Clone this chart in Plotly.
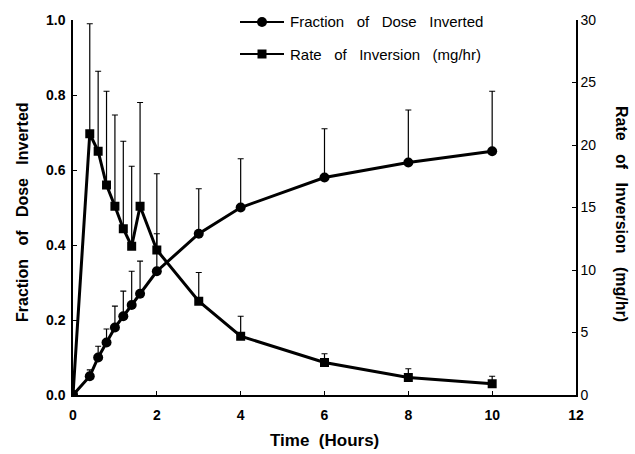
import plotly.graph_objects as go

time_h = [0, 0.4, 0.6, 0.8, 1.0, 1.2, 1.4, 1.6, 2, 3, 4, 6, 8, 10]
fraction_inverted = [0, 0.05, 0.10, 0.14, 0.18, 0.21, 0.24, 0.27, 0.33, 0.43, 0.50, 0.58, 0.62, 0.65]
fraction_err = [0, 0.017, 0.03, 0.036, 0.057, 0.067, 0.09, 0.087, 0.10, 0.12, 0.13, 0.13, 0.14, 0.16]
rate_inversion = [0, 20.9, 19.5, 16.8, 15.1, 13.3, 11.9, 15.1, 11.6, 7.5, 4.7, 2.6, 1.4, 0.9]
rate_err = [0, 8.8, 6.4, 7.5, 7.3, 7.0, 6.4, 8.3, 6.1, 2.3, 1.6, 0.7, 0.7, 0.6]

x_ticks = [0, 2, 4, 6, 8, 10, 12]
y_ticks = [0.0, 0.2, 0.4, 0.6, 0.8, 1.0]
y2_ticks = [0, 5, 10, 15, 20, 25, 30]

series_names = ["Fraction of Dose Inverted", "Rate of Inversion (mg/hr)"]
x_title = "Time (Hours)"

FONT = "Liberation Sans"
SP = "\u00a0"


def spaced(s, n):
    return (SP * n).join(s.split(" "))


fig = go.Figure()
fig.add_trace(go.Scatter(
    x=time_h, y=fraction_inverted, mode="lines+markers",
    name=series_names[0], showlegend=False,
    line=dict(color="black", width=3),
    marker=dict(symbol="circle", size=10, color="black"),
    error_y=dict(type="data", symmetric=False, array=fraction_err,
                 arrayminus=[0] * len(fraction_err), color="black",
                 thickness=1.2, width=3),
))
fig.add_trace(go.Scatter(
    x=time_h, y=rate_inversion, mode="lines+markers", yaxis="y2",
    name=series_names[1], showlegend=False,
    line=dict(color="black", width=3),
    marker=dict(symbol="square", size=9, color="black"),
    error_y=dict(type="data", symmetric=False, array=rate_err,
                 arrayminus=[0] * len(rate_err), color="black",
                 thickness=1.2, width=3),
))

# plot area geometry (pixels)
L, R, T, B = 73, 59, 20, 59
W, H = 635, 454
PW, PH = W - L - R, H - T - B


def px(xp):
    return (xp - L) / PW


def py(yp):
    return (H - B - yp) / PH


shapes = []
annotations = []
legend_rows = [(22, "circle", 10), (54, "square", 9)]
for (yrow, sym, msize), name in zip(legend_rows, series_names):
    shapes.append(dict(type="line", xref="paper", yref="paper",
                       x0=px(240), x1=px(284), y0=py(yrow), y1=py(yrow),
                       line=dict(color="black", width=2)))
    h = msize / 2
    shapes.append(dict(type="circle" if sym == "circle" else "rect",
                       xref="paper", yref="paper",
                       xsizemode="pixel", ysizemode="pixel",
                       xanchor=px(262), yanchor=py(yrow),
                       x0=-h, x1=h, y0=-h, y1=h,
                       fillcolor="black", line=dict(color="black", width=0)))
    annotations.append(dict(text=spaced(name, 3), xref="paper", yref="paper",
                            x=px(288), y=py(yrow), xanchor="left", yanchor="middle",
                            showarrow=False,
                            font=dict(family=FONT, size=15, color="black")))

annotations += [
    dict(text=spaced(x_title, 2), xref="paper", yref="paper", x=0.5, y=py(440),
         xanchor="center", yanchor="middle", showarrow=False,
         font=dict(family=FONT, size=17, color="black", weight="bold")),
    dict(text=spaced(series_names[0], 3), xref="paper", yref="paper",
         x=px(22), y=py(212), textangle=-90, xanchor="center", yanchor="middle",
         showarrow=False,
         font=dict(family=FONT, size=16, color="black", weight="bold")),
    dict(text=spaced(series_names[1], 3), xref="paper", yref="paper",
         x=px(622), y=py(214), textangle=90, xanchor="center", yanchor="middle",
         showarrow=False,
         font=dict(family=FONT, size=16, color="black", weight="bold")),
]

fig.update_layout(
    width=W, height=H,
    margin=dict(l=L, r=R, t=T, b=B),
    paper_bgcolor="white", plot_bgcolor="white",
    showlegend=False,
    shapes=shapes,
    annotations=annotations,
    xaxis=dict(range=[0, 12], tickvals=x_ticks, ticktext=[str(v) for v in x_ticks],
               ticks="inside", ticklen=4, tickwidth=1, tickcolor="black",
               ticklabelstandoff=6,
               showline=True, linecolor="black", linewidth=1.5,
               showgrid=False, zeroline=False,
               tickfont=dict(family=FONT, size=14, color="black", weight="bold")),
    yaxis=dict(range=[0, 1.0], tickvals=y_ticks, ticktext=[f"{v:.1f}" for v in y_ticks],
               ticks="inside", ticklen=4, tickwidth=1, tickcolor="black",
               ticklabelstandoff=3,
               showline=True, linecolor="black", linewidth=1.5,
               showgrid=False, zeroline=False,
               tickfont=dict(family=FONT, size=14, color="black", weight="bold")),
    yaxis2=dict(range=[0, 30], tickvals=y2_ticks, ticktext=[str(v) for v in y2_ticks],
                overlaying="y", side="right",
                ticks="inside", ticklen=4, tickwidth=1, tickcolor="black",
                showline=True, linecolor="black", linewidth=1.5,
                showgrid=False, zeroline=False,
                tickfont=dict(family=FONT, size=14, color="black")),
)

fig.write_html("out.html")
